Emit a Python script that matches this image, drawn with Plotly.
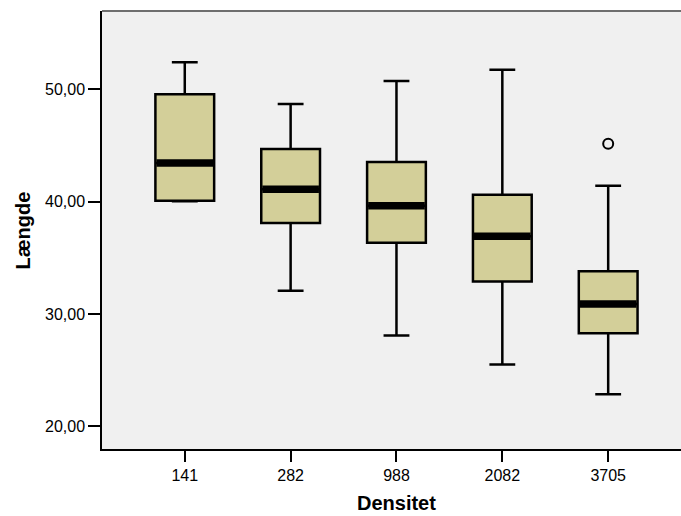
import plotly.graph_objects as go

# Box-plot statistics of Længde per Densitet group
densitet = ["141", "282", "988", "2082", "3705"]
lower_whisker = [40.03, 32.05, 28.08, 25.49, 22.85]
q1 = [40.06, 38.08, 36.32, 32.88, 28.28]
median = [43.42, 41.10, 39.62, 36.92, 30.89]
q3 = [49.54, 44.67, 43.51, 40.60, 33.80]
upper_whisker = [52.39, 48.67, 50.72, 51.73, 41.40]

# Outlying observations (group index, value)
outlier_group = [4]
outlier_value = [45.14]

positions = list(range(len(densitet)))
box_width = 0.555
box_fill = "#d3cf99"
font_family = "Liberation Sans, Arial, sans-serif"

fig = go.Figure()

fig.add_trace(go.Box(
    x=positions,
    q1=q1,
    median=median,
    q3=q3,
    lowerfence=lower_whisker,
    upperfence=upper_whisker,
    width=box_width,
    whiskerwidth=0.44,
    fillcolor=box_fill,
    line=dict(color="black", width=2.5),
    boxpoints=False,
    hoverinfo="skip",
    showlegend=False,
))

# Heavy median bars across each box
med_x, med_y = [], []
for p, m in zip(positions, median):
    med_x += [p - box_width / 2 + 0.01, p + box_width / 2 - 0.01, None]
    med_y += [m, m, None]
fig.add_trace(go.Scatter(
    x=med_x, y=med_y, mode="lines",
    line=dict(color="black", width=7.5),
    hoverinfo="skip", showlegend=False,
))

# Outliers as open circles
fig.add_trace(go.Scatter(
    x=[positions[g] for g in outlier_group],
    y=outlier_value,
    mode="markers",
    marker=dict(symbol="circle-open", size=10, color="black",
                line=dict(width=2, color="black")),
    hoverinfo="skip", showlegend=False,
))

fig.update_layout(
    width=681,
    height=516,
    margin=dict(l=102, r=0, t=11, b=67),
    paper_bgcolor="white",
    plot_bgcolor="#f0f0f0",
    separators=",.",
    font=dict(family=font_family, size=16, color="black"),
    xaxis=dict(
        range=[-0.782, 4.688],
        tickmode="array",
        tickvals=positions,
        ticktext=densitet,
        ticks="outside",
        ticklen=11,
        tickwidth=2,
        tickcolor="black",
        showline=True,
        linecolor="black",
        linewidth=1.5,
        showgrid=False,
        zeroline=False,
    ),
    yaxis=dict(
        range=[17.98, 56.95],
        tickvals=[20, 30, 40, 50],
        tickformat=".2f",
        ticks="outside",
        ticklen=12,
        tickwidth=2,
        tickcolor="black",
        showline=True,
        linecolor="black",
        linewidth=1.5,
        showgrid=False,
        zeroline=False,
    ),
    shapes=[
        dict(type="line", xref="paper", yref="paper",
             x0=0, x1=1, y0=1, y1=1,
             line=dict(color="#6e6e6e", width=2)),
    ],
    annotations=[
        dict(text="<b>Densitet</b>", xref="x", yref="paper",
             x=2, y=-0.123, xanchor="center", yanchor="middle",
             showarrow=False, font=dict(size=20)),
        dict(text="<b>Længde</b>", xref="paper", yref="paper",
             x=-0.1356, y=0.5, xanchor="center", yanchor="middle",
             textangle=-90, showarrow=False, font=dict(size=20)),
    ],
)

fig.write_html("out.html")
